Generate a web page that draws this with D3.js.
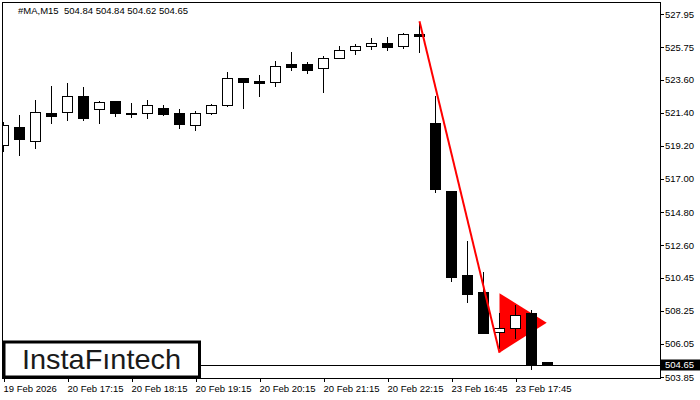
<!DOCTYPE html>
<html>
<head>
<meta charset="utf-8">
<script src="https://cdn.jsdelivr.net/npm/d3@7"></script>
<style>
  html, body { margin: 0; padding: 0; background: #fff; }
  svg { display: block; }
  text { font-family: "Liberation Sans", Arial, sans-serif; }
</style>
</head>
<body>
<div id="chart"></div>
<script>
const W = 700, H = 400;
const plot = { left: 2.5, top: 2.5, right: 660, bottom: 378 };

// OHLC per 15-minute bar (index 0 = first visible bar)
const opens  = [519.25, 520.45, 519.52, 521.38, 521.42, 522.51, 521.62, 522.17, 521.34, 521.36,
                521.70, 521.38, 520.56, 521.36, 521.88, 523.70, 523.52, 523.42, 524.63, 524.63,
                524.35, 525.01, 525.54, 525.85, 526.02, 525.81, 526.60, 520.71, 516.20, 510.62,
                509.49, 506.82, 507.08, 508.08, 504.84];
const highs  = [520.78, 521.25, 522.24, 523.17, 523.37, 523.08, 522.19, 522.20, 522.07, 522.24,
                521.88, 521.66, 521.53, 522.00, 524.12, 523.73, 523.90, 524.83, 525.45, 524.76,
                525.16, 525.83, 525.94, 526.34, 526.42, 526.67, 527.42, 522.53, 516.20, 512.88,
                510.84, 508.12, 508.63, 508.30, 504.84];
const lows   = [518.85, 518.59, 519.07, 520.73, 520.93, 520.93, 520.73, 521.21, 521.08, 521.07,
                521.26, 520.40, 520.27, 521.29, 521.84, 521.69, 522.53, 523.19, 524.25, 524.05,
                522.79, 525.00, 525.31, 525.65, 525.58, 525.67, 525.45, 516.15, 510.24, 508.85,
                506.79, 505.76, 506.42, 504.36, 504.62];
const closes = [520.58, 519.65, 521.42, 521.20, 522.49, 521.07, 522.09, 521.40, 521.38, 521.89,
                521.29, 520.63, 521.36, 521.89, 523.69, 523.46, 523.39, 524.48, 524.45, 524.21,
                525.01, 525.54, 525.81, 526.02, 525.78, 526.60, 526.51, 516.31, 510.51, 509.38,
                506.79, 507.08, 507.95, 504.69, 504.65];

const priceTicks = [527.95, 525.75, 523.60, 521.40, 519.20, 517.00, 514.80, 512.60, 510.45, 508.25, 506.05, 503.85];
const timeTickIdx = [0, 4, 8, 12, 16, 20, 24, 28, 32];
const timeLabels = ["19 Feb 2026", "20 Feb 17:15", "20 Feb 18:15", "20 Feb 19:15", "20 Feb 20:15",
                    "20 Feb 21:15", "20 Feb 22:15", "23 Feb 16:45", "23 Feb 17:45"];

const lastPrice = 504.65;
const title = "#MA,M15  504.84 504.84 504.62 504.65";

// bearish pennant: pole line and flag triangle (bar index, price)
const poleIdx = [26, 31];
const polePrice = [527.47, 505.46];
const flagIdx = [31, 31, 33.95];
const flagPrice = [509.41, 505.46, 507.46];

const bars = opens.map((o, i) => ({ i, o, h: highs[i], l: lows[i], c: closes[i] }));

const x = d3.scaleLinear().domain([0, 34]).range([3.5, 547.5]);
const y = d3.scaleLinear().domain([503.85, 527.95]).range([377, 14]);

const svg = d3.select("#chart").append("svg")
  .attr("width", W).attr("height", H);

svg.append("rect").attr("width", W).attr("height", H).attr("fill", "#fff");

svg.append("clipPath").attr("id", "plotclip")
  .append("rect")
  .attr("x", plot.left).attr("y", plot.top)
  .attr("width", plot.right - plot.left).attr("height", plot.bottom - plot.top);

const g = svg.append("g").attr("clip-path", "url(#plotclip)");

// current price line
g.append("line")
  .attr("x1", plot.left).attr("x2", plot.right)
  .attr("y1", Math.round(y(lastPrice)) + 0.5).attr("y2", Math.round(y(lastPrice)) + 0.5)
  .attr("stroke", "#000").attr("stroke-width", 1)
  .attr("shape-rendering", "crispEdges");

// flag triangle sits behind the bars
g.append("path")
  .attr("d", d3.line()(flagIdx.map((d, i) => [x(d), y(flagPrice[i])])) + "Z")
  .attr("fill", "#ff0000");

// candles
const px = v => Math.round(v) + 0.5;
const candle = g.append("g").attr("shape-rendering", "crispEdges");

candle.selectAll("line.wick")
  .data(bars)
  .enter()
  .append("line")
  .attr("class", "wick")
  .attr("x1", d => px(x(d.i) - 0.5)).attr("x2", d => px(x(d.i) - 0.5))
  .attr("y1", d => Math.round(y(d.h))).attr("y2", d => Math.round(y(d.l)) + 1)
  .attr("stroke", "#000");

candle.selectAll("rect.body")
  .data(bars)
  .enter()
  .append("rect")
  .attr("class", "body")
  .attr("x", d => px(x(d.i) - 5.5))
  .attr("y", d => px(y(Math.max(d.o, d.c))))
  .attr("width", 10)
  .attr("height", d => Math.max(0, Math.round(y(Math.min(d.o, d.c))) - Math.round(y(Math.max(d.o, d.c)))))
  .attr("fill", d => d.c >= d.o ? "#fff" : "#000")
  .attr("stroke", "#000");

// pole line on top
g.append("line")
  .attr("x1", x(poleIdx[0])).attr("y1", y(polePrice[0]))
  .attr("x2", x(poleIdx[1])).attr("y2", y(polePrice[1]))
  .attr("stroke", "#ff0000").attr("stroke-width", 2);

// frame
svg.append("rect")
  .attr("x", plot.left).attr("y", plot.top)
  .attr("width", plot.right - plot.left).attr("height", plot.bottom - plot.top)
  .attr("fill", "none").attr("stroke", "#000")
  .attr("shape-rendering", "crispEdges");

// price axis
const yAxis = svg.append("g")
  .attr("transform", `translate(${plot.right},0)`)
  .call(d3.axisRight(y).tickValues(priceTicks).tickSize(4).tickPadding(1).tickFormat(d3.format(".2f")));
yAxis.select(".domain").remove();
yAxis.selectAll("line").attr("stroke", "#000").attr("shape-rendering", "crispEdges");
yAxis.selectAll("text").attr("font-size", 9.5).attr("fill", "#000")
  .attr("font-family", "Liberation Sans, Arial, sans-serif");

// time axis
const xAxis = svg.append("g")
  .attr("transform", `translate(0,${plot.bottom})`)
  .call(d3.axisBottom(x).tickValues(timeTickIdx).tickSize(4).tickPadding(3)
    .tickFormat((d, i) => timeLabels[i]));
xAxis.select(".domain").remove();
xAxis.selectAll("line").attr("stroke", "#000").attr("shape-rendering", "crispEdges");
xAxis.selectAll("text").attr("font-size", 9.5).attr("fill", "#000")
  .attr("text-anchor", "start").attr("x", -0.5)
  .attr("font-family", "Liberation Sans, Arial, sans-serif");

// last price tag
const ly = y(lastPrice);
svg.append("rect")
  .attr("x", plot.right).attr("y", Math.round(ly) - 5.5)
  .attr("width", W - plot.right).attr("height", 11)
  .attr("fill", "#000");
svg.append("text")
  .attr("x", plot.right + 5).attr("y", ly + 3.5)
  .attr("font-size", 9.5).attr("fill", "#fff")
  .text(d3.format(".2f")(lastPrice));

// title
svg.append("text")
  .attr("x", 18).attr("y", 14)
  .attr("font-size", 9.5).attr("fill", "#000")
  .attr("xml:space", "preserve")
  .style("white-space", "pre")
  .text(title);

// logo
svg.append("rect")
  .attr("x", 4).attr("y", 342)
  .attr("width", 195.5).attr("height", 35)
  .attr("fill", "#fff").attr("stroke", "#000").attr("stroke-width", 3);
svg.append("text")
  .attr("x", 22).attr("y", 369)
  .attr("font-family", "Lato, 'Open Sans', sans-serif")
  .attr("font-size", 28)
  .attr("fill", "#1a1a1a")
  .attr("textLength", 159).attr("lengthAdjust", "spacingAndGlyphs")
  .text("InstaF\u0131ntech");
</script>
</body>
</html>
